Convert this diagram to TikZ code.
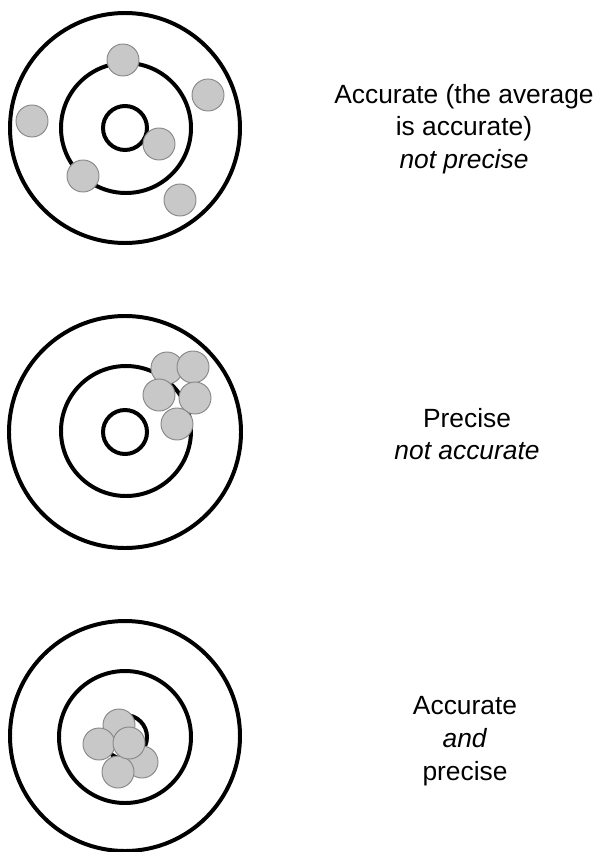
\documentclass[tikz,border=0pt]{standalone}
\usepackage{fontspec}
\setmainfont{Liberation Sans}
\usepackage{tikz}
\definecolor{shotfill}{RGB}{200, 200, 200}
\definecolor{shotedge}{RGB}{135, 135, 135}
\begin{document}
\begin{tikzpicture}[x=0.03cm, y=-0.03cm,
    ring/.style={draw=black, line width=3.4pt},
    shot/.style={fill=shotfill, draw=shotedge, line width=0.8pt},
    caption/.style={align=center, font=\fontsize{22.5}{28}\selectfont}]
                \useasboundingbox (0,0) rectangle (599,852);
                % Top target (accurate, not precise)
                \draw[ring] (125,128) circle (115);
                \draw[ring] (126,128) circle (65);
                \draw[ring] (125,128) circle (22);
                \filldraw[shot] (123,60) circle (16);
                \filldraw[shot] (208,95) circle (16);
                \filldraw[shot] (32,121) circle (16);
                \filldraw[shot] (159,144) circle (16);
                \filldraw[shot] (83,176) circle (16);
                \filldraw[shot] (180,200) circle (16);
                % Middle target (precise, not accurate)
                \draw[ring] (125,432) circle (116);
                \draw[ring] (126,431) circle (65);
                \draw[ring] (125,432) circle (22);
                \filldraw[shot] (167,368) circle (16);
                \filldraw[shot] (193,367) circle (16);
                \filldraw[shot] (159,395) circle (16);
                \filldraw[shot] (195,398) circle (16);
                \filldraw[shot] (177,424) circle (16);
                % Bottom target (accurate and precise)
                \draw[ring] (125,736) circle (115);
                \draw[ring] (125,737) circle (66);
                \draw[ring] (125,737) circle (22);
                \filldraw[shot] (119,725) circle (16);
                \filldraw[shot] (142,762) circle (16);
                \filldraw[shot] (99,744) circle (16);
                \filldraw[shot] (118,772) circle (16);
                \filldraw[shot] (129,743) circle (16);
                
                \node[caption] (lblA) at (464,129) {Accurate (the average\\is accurate)\\\textit{not precise}};
                \node[caption] (lblB) at (467,434) {Precise\\\textit{not accurate}};
                \node[caption] (lblC) at (465,741) {Accurate\\\textit{and}\\precise};
            \end{tikzpicture}
\end{document}
